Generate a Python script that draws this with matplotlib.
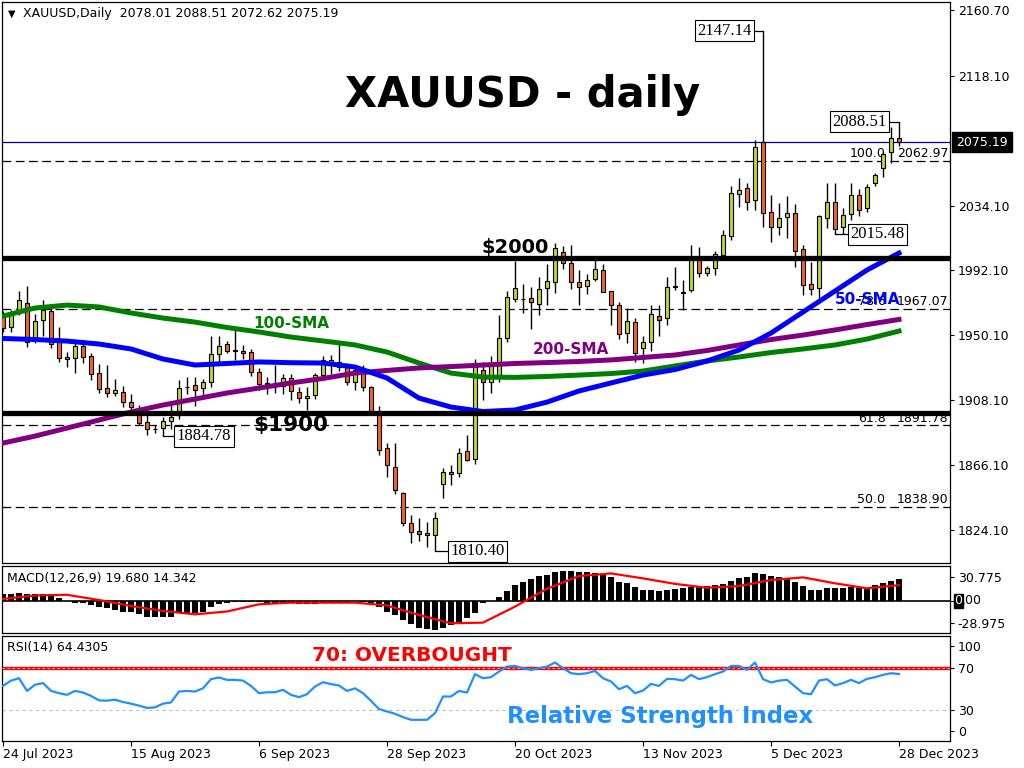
import numpy as np
import matplotlib.pyplot as plt

plt.rcParams['font.family'] = 'DejaVu Sans'

# --- data --------------------------------------------------------------
date_labels = ['24 Jul 2023', '15 Aug 2023', '6 Sep 2023', '28 Sep 2023',
               '20 Oct 2023', '13 Nov 2023', '5 Dec 2023', '28 Dec 2023']
date_bars = [0, 16, 32, 48, 64, 80, 96, 112]

opens = [1962.2, 1955.3, 1966.5, 1971.2, 1948.2, 1960.0, 1966.1, 1947.0, 1935.9, 1935.2,
         1943.2, 1936.7, 1925.9, 1915.8, 1912.6, 1913.6, 1907.2, 1902.4, 1894.3, 1889.5,
         1889.9, 1894.8, 1898.5, 1916.5, 1917.9, 1915.8, 1920.1, 1937.8, 1944.5, 1940.4,
         1940.2, 1939.1, 1926.6, 1918.6, 1919.0, 1917.5, 1922.7, 1913.6, 1909.8, 1911.5,
         1924.4, 1933.0, 1933.0, 1929.8, 1920.1, 1927.7, 1916.9, 1900.7, 1876.9, 1865.1,
         1847.9, 1828.8, 1823.7, 1821.9, 1820.9, 1853.7, 1861.5, 1860.8, 1875.2, 1869.9,
         1927.7, 1920.1, 1923.0, 1948.2, 1973.4, 1973.6, 1974.1, 1970.2, 1981.0, 1984.4,
         2003.9, 1996.7, 1984.4, 1982.2, 1986.4, 1992.4, 1978.8, 1969.8, 1951.4, 1958.6,
         1941.7, 1946.0, 1962.6, 1961.1, 1981.8, 1977.9, 1979.4, 1999.5, 1990.2, 1993.5,
         2002.1, 2014.4, 2041.6, 2045.3, 2037.7, 2075.5, 2030.1, 2020.4, 2026.5, 2029.1,
         2005.8, 1983.2, 1980.6, 2025.9, 2036.6, 2020.1, 2028.5, 2041.0, 2032.3, 2048.5,
         2058.2, 2068.6, 2078.01]
highs = [1966.0, 1966.5, 1978.8, 1982.3, 1963.7, 1973.0, 1968.0, 1955.7, 1939.1, 1947.1,
         1947.0, 1939.0, 1931.6, 1931.0, 1922.0, 1917.5, 1912.0, 1905.0, 1900.7, 1892.0,
         1897.0, 1905.0, 1921.0, 1923.3, 1923.3, 1922.0, 1949.9, 1949.9, 1946.5, 1953.4,
         1944.0, 1941.0, 1929.0, 1923.0, 1931.0, 1925.0, 1925.0, 1916.5, 1916.9, 1926.0,
         1937.0, 1937.7, 1946.0, 1932.0, 1929.5, 1931.0, 1917.5, 1904.4, 1880.2, 1880.2,
         1849.0, 1833.8, 1832.0, 1829.5, 1835.6, 1864.0, 1866.0, 1877.5, 1885.6, 1935.0,
         1933.0, 1937.0, 1963.0, 1979.0, 1998.2, 1983.2, 1981.2, 1987.7, 1996.0, 2010.1,
         2008.0, 2008.6, 1992.4, 1990.0, 2001.5, 1996.0, 1978.8, 1972.0, 1967.6, 1961.1,
         1950.0, 1970.0, 1970.0, 1988.1, 1994.2, 1985.9, 2008.6, 2007.0, 1995.0, 2005.0,
         2018.0, 2047.0, 2052.2, 2048.5, 2076.6, 2147.14, 2041.0, 2036.0, 2040.0, 2034.9,
         2008.6, 1997.8, 2028.0, 2048.5, 2048.5, 2032.5, 2049.0, 2045.0, 2048.0, 2055.0,
         2069.0, 2085.2, 2088.51]
lows = [1952.0, 1952.0, 1963.3, 1942.8, 1945.0, 1950.0, 1941.7, 1933.0, 1929.8, 1925.7,
        1932.0, 1921.0, 1913.0, 1910.0, 1911.0, 1904.0, 1900.7, 1892.0, 1885.6, 1887.0,
        1884.78, 1889.5, 1896.0, 1912.0, 1904.4, 1910.0, 1917.0, 1933.0, 1939.0, 1934.1,
        1934.5, 1924.0, 1915.0, 1912.0, 1913.0, 1912.0, 1908.3, 1906.0, 1901.8, 1909.0,
        1921.0, 1925.0, 1927.0, 1918.0, 1915.0, 1914.0, 1899.0, 1872.9, 1858.6, 1847.5,
        1827.0, 1815.5, 1817.0, 1813.3, 1810.40, 1844.6, 1853.0, 1858.5, 1868.5, 1867.0,
        1908.3, 1913.0, 1920.0, 1945.5, 1972.0, 1964.8, 1954.0, 1963.3, 1970.0, 1977.3,
        1993.0, 1980.0, 1969.8, 1977.0, 1985.5, 1978.0, 1956.8, 1948.0, 1945.0, 1933.0,
        1932.0, 1940.0, 1950.0, 1956.8, 1979.4, 1966.5, 1978.4, 1988.0, 1988.5, 1989.0,
        2000.0, 2012.0, 2033.0, 2031.2, 2031.0, 2020.4, 2010.7, 2015.0, 2013.0, 1994.5,
        1976.2, 1976.2, 1974.0, 2019.4, 2015.48, 2016.0, 2025.0, 2027.5, 2030.0, 2046.5,
        2052.5, 2062.0, 2072.62]
closes = [1954.8, 1964.8, 1973.0, 1945.9, 1959.6, 1966.5, 1944.5, 1935.2, 1934.6, 1943.2,
          1936.3, 1924.9, 1915.2, 1912.6, 1914.7, 1907.2, 1903.9, 1893.2, 1889.5, 1889.2,
          1894.8, 1897.4, 1915.8, 1917.0, 1914.7, 1920.1, 1938.0, 1943.2, 1940.2, 1940.0,
          1938.5, 1926.2, 1918.6, 1919.5, 1919.5, 1922.7, 1914.3, 1909.4, 1910.8, 1924.4,
          1934.1, 1934.1, 1929.8, 1920.1, 1927.7, 1916.9, 1900.7, 1875.9, 1866.2, 1850.0,
          1828.4, 1823.0, 1821.5, 1820.6, 1831.7, 1861.5, 1860.2, 1873.7, 1869.4, 1932.0,
          1920.1, 1932.0, 1948.2, 1974.7, 1980.5, 1973.4, 1971.5, 1979.9, 1985.3, 2006.4,
          1996.7, 1984.4, 1981.6, 1985.9, 1992.9, 1978.4, 1969.8, 1950.8, 1959.4, 1938.5,
          1946.0, 1963.9, 1960.0, 1981.6, 1981.3, 1977.5, 1999.5, 1990.2, 1993.5, 2002.8,
          2015.1, 2042.1, 2044.2, 2036.6, 2072.2, 2029.1, 2020.4, 2025.9, 2029.1, 2004.7,
          1982.7, 1979.9, 2027.4, 2036.2, 2018.8, 2028.0, 2041.0, 2031.2, 2046.4, 2053.9,
          2067.5, 2077.6, 2075.19]

# moving averages, read every 4th bar
sma_bars = [0, 4, 8, 12, 16, 20, 24, 28, 32, 36, 40, 44, 48, 52, 56, 60, 64, 68, 72,
            76, 80, 84, 88, 92, 96, 100, 104, 108, 112]
sma50 = [1948.1, 1947.4, 1946.4, 1944.5, 1941.3, 1934.8, 1930.9, 1931.9, 1932.9, 1932.4,
         1932.2, 1929.6, 1922.5, 1909.5, 1903.7, 1900.8, 1901.8, 1906.9, 1914.1, 1919.3,
         1924.4, 1928.0, 1933.5, 1940.6, 1951.6, 1965.2, 1978.8, 1992.4, 2003.4]
sma100 = [1962.6, 1967.8, 1969.7, 1968.5, 1964.6, 1961.3, 1958.7, 1955.2, 1952.3, 1949.0,
          1946.5, 1943.9, 1939.3, 1932.2, 1925.7, 1923.1, 1922.9, 1923.5, 1924.4, 1925.4,
          1927.0, 1930.3, 1933.5, 1936.1, 1939.0, 1941.3, 1943.9, 1947.7, 1952.9]
sma200 = [1880.4, 1884.9, 1890.1, 1895.3, 1900.5, 1905.0, 1908.9, 1912.8, 1916.0, 1919.3,
          1922.2, 1925.7, 1927.4, 1929.0, 1929.9, 1930.9, 1931.9, 1932.5, 1933.2, 1934.2,
          1935.8, 1937.4, 1940.3, 1943.9, 1947.4, 1950.3, 1953.6, 1957.1, 1960.4]

fib_levels = [2062.97, 1967.07, 1891.78, 1838.90]
fib_names = ['100.0', '78.6', '61.8', '50.0']

macd_hist = [6.0, 6.0, 6.9, 6.0, 6.0, 6.0, 6.0, 2.4, 0.3, -1.5,
             -2.1, -3.6, -5.1, -6.6, -8.1, -9.7, -10.3, -11.8, -14.2, -14.8,
             -14.8, -14.8, -11.2, -10.6, -10.6, -9.7, -5.1, -3.0, -1.5, -0.6,
             -0.6, -0.9, -1.2, -1.5, -1.8, -2.1, -2.1, -2.4, -2.7, -2.4,
             -2.1, -1.5, -0.9, -0.6, -0.3, -0.6, -1.5, -5.1, -9.7, -12.7,
             -17.2, -20.8, -24.1, -25.6, -26.2, -24.1, -21.7, -20.2, -15.7, -10.6,
             -2.1, 0.3, 3.9, 9.0, 14.5, 16.9, 19.6, 22.6, 23.5, 26.2,
             27.5, 27.1, 26.2, 25.9, 25.0, 24.1, 22.0, 17.5, 16.0, 12.4,
             9.9, 9.9, 9.4, 9.9, 10.6, 11.5, 12.4, 13.0, 13.6, 14.2,
             15.4, 18.4, 20.5, 22.0, 25.0, 24.1, 22.6, 21.4, 20.5, 17.5,
             13.6, 9.9, 9.9, 11.5, 11.5, 11.5, 12.4, 11.5, 10.6, 14.5,
             16.6, 18.1, 19.68]
macd_signal = [1.8, 5.0, 5.6, 0.9, -4.5, -9.0, -12.1, -9.5, -3.0, -1.5,
               -1.5, -1.5, -4.0, -12.7, -20.2, -19.6, -5.1, 11.0, 22.6, 25.0,
               20.5, 15.5, 12.0, 13.5, 19.0, 21.4, 16.0, 11.5, 14.342]

rsi = [53.0, 58.1, 60.4, 48.2, 54.1, 55.7, 48.2, 46.0, 44.4, 48.2,
       46.6, 43.4, 39.1, 38.8, 39.7, 37.5, 35.9, 34.0, 31.8, 32.4,
       35.9, 37.1, 47.6, 48.2, 47.6, 50.7, 59.5, 61.1, 58.8, 58.8,
       58.1, 53.0, 46.0, 46.9, 46.9, 49.2, 44.4, 42.2, 45.0, 52.4,
       56.6, 54.7, 53.4, 48.2, 50.7, 46.0, 38.6, 30.7, 28.4, 26.2,
       23.0, 20.4, 20.4, 20.4, 26.8, 42.8, 42.8, 48.2, 46.6, 64.3,
       60.4, 61.4, 66.8, 71.6, 72.2, 70.0, 68.4, 70.0, 71.6, 75.5,
       70.0, 65.2, 64.3, 65.2, 67.4, 60.4, 57.2, 49.8, 53.0, 46.0,
       48.5, 54.9, 53.0, 59.8, 59.5, 58.1, 63.6, 59.5, 61.4, 64.3,
       66.8, 72.2, 72.2, 68.4, 75.5, 59.5, 56.3, 58.1, 58.8, 52.4,
       46.0, 45.0, 58.1, 59.5, 53.4, 55.7, 58.8, 55.7, 59.8, 61.4,
       63.6, 65.2, 64.43]

price_ticks = [1824.10, 1866.10, 1908.10, 1950.10, 1992.10, 2034.10, 2118.10, 2160.70]

# --- figure layout (pixel boxes like the terminal window) ------------------
W, H = 1024, 768


def px_box(l, t, r, b):
    return [l / W, 1 - b / H, (r - l) / W, (b - t) / H]


fig = plt.figure(figsize=(W / 100, H / 100), dpi=100)
ax = fig.add_axes(px_box(2, 2, 950, 563))
ax_m = fig.add_axes(px_box(2, 566, 950, 633))
ax_r = fig.add_axes(px_box(2, 636, 950, 741))

xlim = (-0.125, 118.375)
for a in (ax, ax_m, ax_r):
    a.set_xlim(*xlim)
    a.yaxis.tick_right()
    a.tick_params(axis='y', length=3, width=0.8, pad=2.5, labelsize=9, colors='black')
    for s in a.spines.values():
        s.set_linewidth(0.9)
        s.set_color('black')
    a.set_xticks([])

# --- main price panel ----------------------------------------------------
o = np.array(opens)
h = np.array(highs)
l = np.array(lows)
c = np.array(closes)
x = np.arange(len(c))
up = c >= o
body_col = np.where(up, '#BED630', '#F26522')
body_bot = np.minimum(o, c)
body_h = np.maximum(np.abs(c - o), 0.5)

ax.set_ylim(1802.75, 2165.9)
ax.set_yticks(price_ticks)
ax.set_yticklabels(['%.2f' % t for t in price_ticks])

for lev in fib_levels:
    ax.axhline(lev, color='black', lw=0.9, ls=(0, (7, 3.6)), zorder=1)
for lev, name in zip(fib_levels, fib_names):
    ax.text(110.3, lev + 0.6, name, ha='right', va='bottom', fontsize=9, zorder=2)
    ax.text(118.2, lev + 0.6, '%.2f' % lev, ha='right', va='bottom', fontsize=9, zorder=2)

ax.vlines(x, l, h, color='black', lw=1.0, zorder=3)
ax.bar(x, body_h, bottom=body_bot, width=0.6, color=body_col, edgecolor='black',
       linewidth=0.8, zorder=4)

ax.plot(sma_bars, sma100, color='#008000', lw=3.6, zorder=5, solid_joinstyle='round')
ax.plot(sma_bars, sma200, color='#800080', lw=3.6, zorder=5, solid_joinstyle='round')
ax.plot(sma_bars, sma50, color='#0000FF', lw=3.6, zorder=6, solid_joinstyle='round')

ax.axhline(2000, color='black', lw=3.8, zorder=7)
ax.axhline(1900, color='black', lw=3.8, zorder=7)
ax.axhline(closes[-1], color='#000080', lw=0.9, zorder=2)

# current price tag
ax.text(1.0065, closes[-1], '%.2f' % closes[-1], transform=ax.get_yaxis_transform(),
        ha='left', va='center', fontsize=9, color='white', clip_on=False,
        bbox=dict(boxstyle='square,pad=0.3', fc='black', ec='black'))

# swing high / low labels
box = dict(boxstyle='square,pad=0.15', fc='white', ec='black', lw=0.8)
swings = [(95, highs[95], 93.6, 'right'), (112, highs[112], 110.5, 'right'),
          (20, lows[20], 21.7, 'left'), (54, lows[54], 55.9, 'left'),
          (104, lows[104], 105.9, 'left')]
for bar_i, val, tx, ha in swings:
    ax.plot([bar_i, tx], [val, val], color='black', lw=0.9, zorder=8)
    ax.text(tx, val, '%.2f' % val, ha=ha, va='center', fontsize=12,
            family='Liberation Serif', bbox=box, zorder=9)

ax.text(65.0, 2105.7, 'XAUUSD - daily', ha='center', va='center', fontsize=30,
        fontweight='bold', zorder=9)
ax.text(64.0, 2007.0, '$2000', ha='center', va='center', fontsize=14,
        fontweight='bold', zorder=9)
ax.text(36.0, 1892.4, '$1900', ha='center', va='center', fontsize=15.5,
        fontweight='bold', zorder=9)
ax.text(36.1, 1957.8, '100-SMA', ha='center', va='center', fontsize=11,
        fontweight='bold', color='#008000', zorder=9)
ax.text(71.0, 1941.0, '200-SMA', ha='center', va='center', fontsize=11,
        fontweight='bold', color='#800080', zorder=9)
ax.text(108.1, 1973.0, '50-SMA', ha='center', va='center', fontsize=11,
        fontweight='bold', color='#0000FF', zorder=9)

ax.text(6 / 948, 1 - 12 / 561, '\u25BC', transform=ax.transAxes, ha='left',
        va='center', fontsize=7)
ax.text(21 / 948, 1 - 12 / 561, 'XAUUSD,Daily  2078.01 2088.51 2072.62 2075.19',
        transform=ax.transAxes, ha='left', va='center', fontsize=9)

# --- MACD panel ------------------------------------------------------------
ax_m.set_ylim(-29.0, 31.7)
ax_m.bar(x, macd_hist, width=0.75, color='black', zorder=2)
ax_m.axhline(0, color='black', lw=1.2, zorder=1)
ax_m.plot(sma_bars, macd_signal, color='red', lw=1.6, zorder=3, solid_joinstyle='round')
ax_m.set_yticks([21.7, 0, -19.9])
ax_m.set_yticklabels(['30.775', '', '-28.975'])
ax_m.text(1.0045, 0, '0', transform=ax_m.get_yaxis_transform(), ha='left', va='center',
          fontsize=9, color='white', clip_on=False,
          bbox=dict(boxstyle='square,pad=0.05', fc='black', ec='black'))
ax_m.text(1.0125, 0, '.00', transform=ax_m.get_yaxis_transform(), ha='left',
          va='center', fontsize=9, clip_on=False)
ax_m.text(5 / 948, 0.82, 'MACD(12,26,9) 19.680 14.342', transform=ax_m.transAxes,
          ha='left', va='center', fontsize=9)

# --- RSI panel ---------------------------------------------------------------
ax_r.set_ylim(0, 101)
ax_r.axhline(70, color='red', lw=2.4, zorder=2)
ax_r.axhline(70, color='#ffd0d0', lw=0.6, ls=(0, (3, 3)), zorder=3)
ax_r.axhline(30, color='#c0c0c0', lw=0.8, ls=(0, (3, 3)), zorder=1)
ax_r.plot(x, rsi, color='#1E90FF', lw=1.6, zorder=4)
ax_r.set_yticks([91.5, 70, 30, 9.5])
ax_r.set_yticklabels(['100', '70', '30', '0'])
ax_r.text(5 / 948, 0.886, 'RSI(14) 64.4305', transform=ax_r.transAxes, ha='left',
          va='center', fontsize=9)
ax_r.text(51.1, 81.8, '70: OVERBOUGHT', ha='center', va='center', fontsize=14.4,
          fontweight='bold', color='red', zorder=5)
ax_r.text(82.1, 23.3, 'Relative Strength Index', ha='center', va='center',
          fontsize=16.5, fontweight='bold', color='#1E90FF', zorder=5)

ax_r.set_xticks(date_bars)
ax_r.set_xticklabels(date_labels)
ax_r.tick_params(axis='x', length=3.5, width=0.8, pad=1.5, labelsize=9)
for lab in ax_r.get_xticklabels():
    lab.set_ha('left')

fig.savefig('out.png', dpi=100)
